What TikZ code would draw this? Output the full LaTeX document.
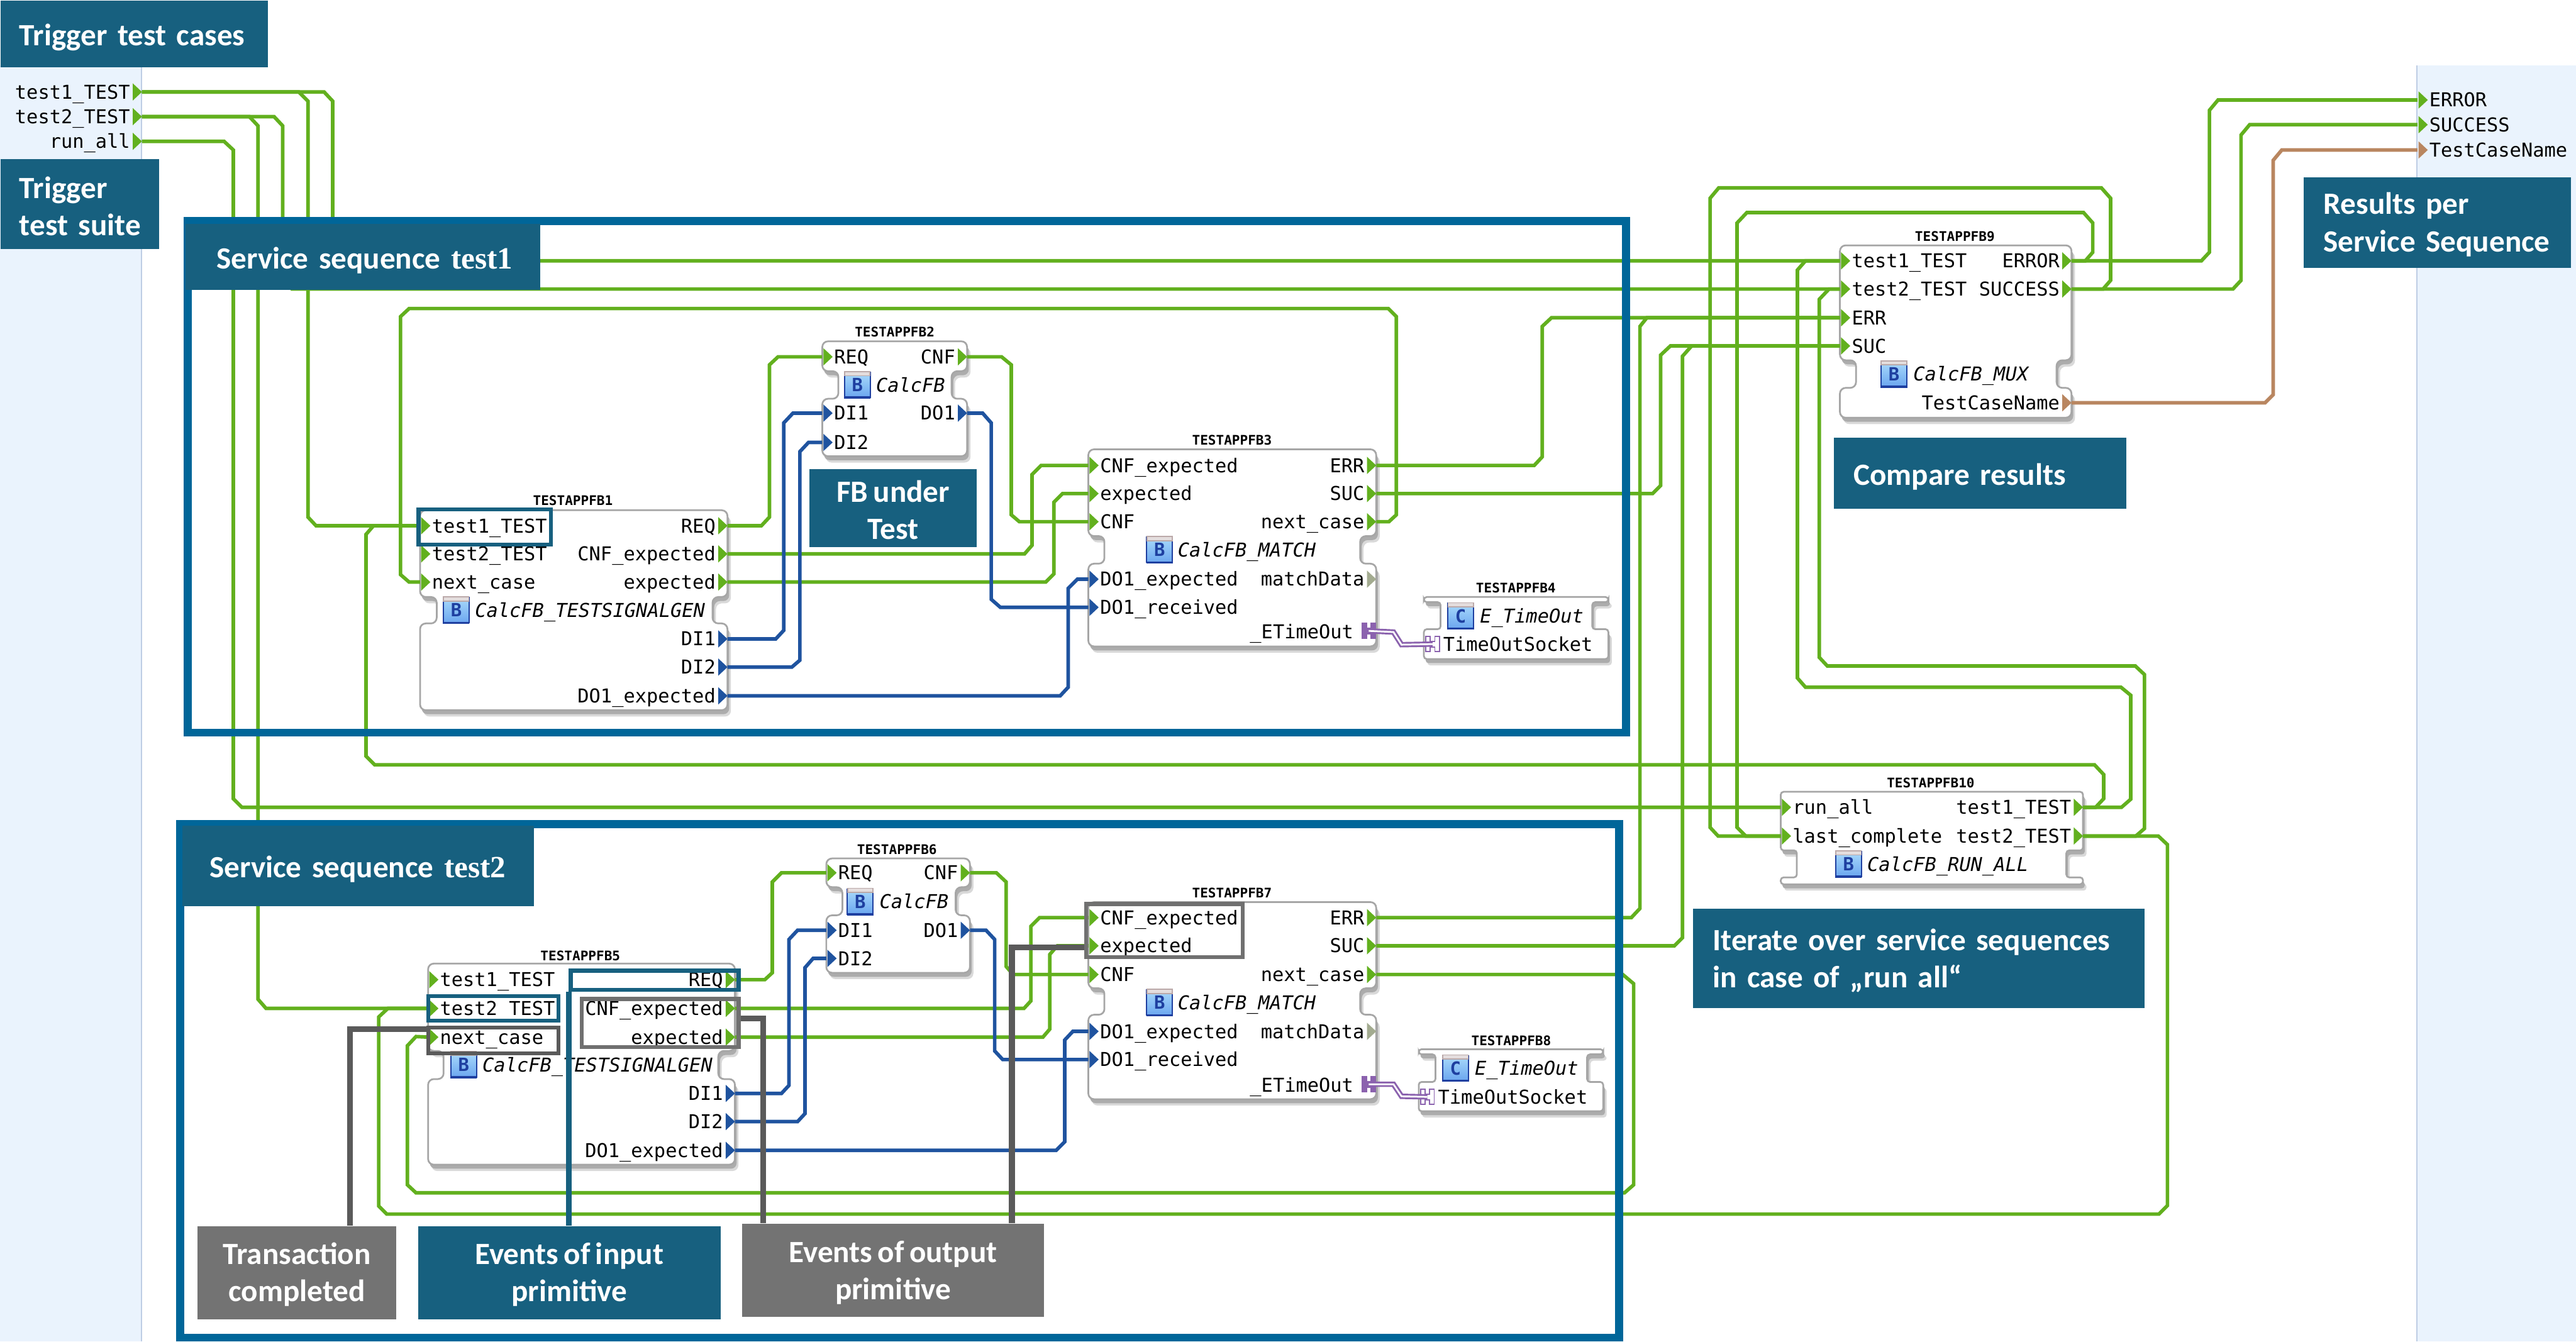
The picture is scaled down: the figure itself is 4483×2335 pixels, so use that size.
\documentclass[tikz,border=0pt]{standalone}
\usepackage{fontspec}
\setmainfont{Carlito}[WordSpace=0.75]
\newfontfamily\monofnt{DejaVu Sans Mono}
\newfontfamily\timesfnt{Liberation Serif}[WordSpace=0.75]
\definecolor{capcol}{HTML}{17607F}
\definecolor{capgrey}{HTML}{737373}
\definecolor{framecol}{HTML}{006699}
\definecolor{panelcol}{HTML}{EAF3FD}
\definecolor{paneledge}{HTML}{BECDE4}
\definecolor{evcol}{HTML}{62B01E}
\definecolor{datacol}{HTML}{1F539F}
\definecolor{strcol}{HTML}{B98660}
\definecolor{anycol}{HTML}{A3AB90}
\definecolor{plugcol}{HTML}{8B62AE}
\definecolor{leadcol}{HTML}{5A5A5A}
\definecolor{markcol}{HTML}{707070}
\definecolor{icontop}{HTML}{A9DAFB}
\definecolor{iconbot}{HTML}{6BA6EF}
\definecolor{iconink}{HTML}{1E3FA0}
\definecolor{icontab}{HTML}{BBA9A9}
\newcommand{\capfont}{\fontsize{15.3}{18.4}\selectfont\bfseries}
\newcommand{\capstrut}{\rule{0pt}{0.45cm}}
\newcommand{\onestrut}{\rule{0pt}{0.5cm}}
\tikzset{
    evline/.style={draw=evcol,line width=0.062cm},
    dataline/.style={draw=datacol,line width=0.062cm},
    strline/.style={draw=strcol,line width=0.062cm},
    plugline/.style={draw=plugcol,line width=0.032cm,double=white,double distance=0.03cm},
    portlabel/.style={font=\monofnt\fontsize{9.45}{10}\selectfont,inner sep=0pt,text height=0.24cm,text depth=0cm},
    fbtype/.style={portlabel,font=\monofnt\itshape\fontsize{9.45}{10}\selectfont,anchor=west},
    fbname/.style={font=\monofnt\bfseries\fontsize{6.55}{7}\selectfont,inner sep=0pt},
    fbicon/.style={minimum width=0.45cm,minimum height=0.44cm,inner sep=0pt,draw=iconink,line width=0.02cm,
        top color=icontop,bottom color=iconbot,text=iconink,font=\monofnt\bfseries\fontsize{9}{9}\selectfont},
    capblue/.style={fill=capcol,text=white,font=\capfont,anchor=north west,inner sep=0pt},
    capgray/.style={capblue,fill=capgrey},
    capleft/.style={align=left,execute at begin node={\leftskip=#1}},
    markblue/.style={draw=capcol,line width=0.07cm,inner sep=0pt},
    markgrey/.style={draw=markcol,line width=0.07cm,inner sep=0pt},
    markdark/.style={draw=leadcol,line width=0.07cm,inner sep=0pt},
    leadblue/.style={draw=capcol,line width=0.1cm},
    leadgrey/.style={draw=leadcol,line width=0.1cm},
}
% l,r,top,neck top,neck bottom,bottom,neck left,neck right,radius
\newcommand{\fbshape}[9]{
    \foreach \dx/\dy/\col in {6/11/gray!30,3/7/gray!65}
        \fill[\col,xshift=\dx*0.01cm,yshift=-\dy*0.01cm,rounded corners=#9]
            (#1,#3) -- (#2,#3) -- (#2,#4) -- (#8,#4) -- (#8,#5) -- (#2,#5) -- (#2,#6) -- (#1,#6) -- (#1,#5) -- (#7,#5) -- (#7,#4) -- (#1,#4) -- cycle;
    \filldraw[fill=white,draw=gray!70,line width=0.03cm,rounded corners=#9]
        (#1,#3) -- (#2,#3) -- (#2,#4) -- (#8,#4) -- (#8,#5) -- (#2,#5) -- (#2,#6) -- (#1,#6) -- (#1,#5) -- (#7,#5) -- (#7,#4) -- (#1,#4) -- cycle;
}
\newcommand{\inport}[5][evcol]{
    \fill[#1] (#3,#4) ++(2,-15) -- ++(16,15) -- ++(-16,15) -- cycle;
    \coordinate (#2) at (#3,#4);
    \path (#3,#4) ++(20,0) node[portlabel,anchor=west] (#2l) {#5};
}
\newcommand{\outport}[5][evcol]{
    \fill[#1] (#3,#4) ++(-16,-15) -- ++(16,15) -- ++(-16,15) -- cycle;
    \coordinate (#2) at (#3,#4);
    \path (#3,#4) ++(-20,0) node[portlabel,anchor=east] (#2l) {#5};
}
\newcommand{\typeicon}[4]{
    \node[fbicon] (#1) at (#2,#3) {#4};
    \filldraw[fill=icontab!40,draw=icontab,line width=0.02cm] (#2,#3) ++(-22,-23) rectangle ++(44,7);
    \fill[iconink] (#2,#3) ++(-23,20) rectangle ++(46,4);
}
\newcommand{\hplug}[4]{
    \filldraw[#4,draw=plugcol,line width=0.02cm] (#2,#3) ++(-12,-13) -- ++(8,0) -- ++(0,8) -- ++(8,0) -- ++(0,-8) -- ++(8,0) -- ++(0,26)
        -- ++(-8,0) -- ++(0,-8) -- ++(-8,0) -- ++(0,8) -- ++(-8,0) -- cycle;
    \coordinate (#1) at (#2,#3);
}
\begin{document}
\begin{tikzpicture}[x=0.01cm,y=-0.01cm]
    \useasboundingbox (0,0) rectangle (4483,2335);
    \fill[white] (0,0) rectangle (4483,2335);
    % interface panels
    \fill[panelcol] (0,114) rectangle (246,2335);
    \draw[paneledge,line width=0.025cm] (246,114) -- (246,2335);
    \fill[panelcol] (4206,114) rectangle (4483,2335);
    \draw[paneledge,line width=0.025cm] (4206,114) -- (4206,2335);
    \outport{trig1}{247}{160}{test1\_TEST}
    \outport{trig2}{247}{203}{test2\_TEST}
    \outport{trigall}{247}{246}{run\_all}
    \inport{resterr}{4207}{174}{ERROR}
    \inport{ressuc}{4207}{217}{SUCCESS}
    \inport[strcol]{resname}{4207}{261}{TestCaseName}

    % service sequence test1
    \fbshape{731}{1266}{888}{1039}{1085}{1236}{760}{1240}{0.1cm}
    \node[fbname] (fb1) at (997,871) {TESTAPPFB1};
    \inport{fbat}{731}{915}{test1\_TEST}
    \inport{fbas}{731}{964}{test2\_TEST}
    \inport{fban}{731}{1013}{next\_case}
    \outport{fbar}{1266}{915}{REQ}
    \outport{fbac}{1266}{964}{CNF\_expected}
    \outport{fbae}{1266}{1013}{expected}
    \outport[datacol]{fbad}{1266}{1112}{DI1}
    \outport[datacol]{fbaf}{1266}{1161}{DI2}
    \outport[datacol]{fbao}{1266}{1211}{DO1\_expected}
    \typeicon{icona}{794}{1062}{B}
    \node[fbtype] (typea) at (826,1062) {CalcFB\_TESTSIGNALGEN};

    \fbshape{1431}{1683}{594}{646}{694}{794}{1459}{1656}{0.1cm}
    \node[fbname] (fb2) at (1557,578) {TESTAPPFB2};
    \inport{fbbr}{1431}{621}{REQ}
    \outport{fbbc}{1683}{621}{CNF}
    \inport[datacol]{fbbd}{1431}{719}{DI1}
    \inport[datacol]{fbbf}{1431}{770}{DI2}
    \outport[datacol]{fbbo}{1683}{719}{DO1}
    \typeicon{iconb}{1492}{670}{B}
    \node[fbtype] (typeb) at (1524,670) {CalcFB};

    \fbshape{1894}{2395}{782}{933}{981}{1125}{1922}{2367}{0.1cm}
    \node[fbname] (fb3) at (2144,766) {TESTAPPFB3};
    \inport{fbcc}{1894}{810}{CNF\_expected}
    \inport{fbce}{1894}{859}{expected}
    \inport{fbcn}{1894}{908}{CNF}
    \inport[datacol]{fbco}{1894}{1008}{DO1\_expected}
    \inport[datacol]{fbcr}{1894}{1057}{DO1\_received}
    \outport{fbcerr}{2395}{810}{ERR}
    \outport{fbcsuc}{2395}{859}{SUC}
    \outport{fbcnext}{2395}{908}{next\_case}
    \outport[anycol]{fbcm}{2395}{1008}{matchData}
    \typeicon{iconc}{2018}{957}{B}
    \node[fbtype] (typec) at (2049,957) {CalcFB\_MATCH};
    \node[portlabel,anchor=east] (timeca) at (2356,1099) {\_ETimeOut};
    \hplug{plugc}{2382}{1098}{fill=plugcol}

    \fbshape{2478}{2799}{1039}{1048}{1095}{1147}{2507}{2771}{0.05cm}
    \node[fbname] (fb4) at (2638,1023) {TESTAPPFB4};
    \typeicon{icond}{2542}{1072}{C}
    \node[fbtype] (typed) at (2575,1072) {E\_TimeOut};
    \hplug{sockd}{2493}{1121}{fill=white}
    \node[portlabel,anchor=west] (timecd) at (2511,1121) {TimeOutSocket};

    % service sequence test2
    \fbshape{745}{1279}{1677}{1829}{1878}{2027}{772}{1250}{0.1cm}
    \node[fbname] (fb5) at (1010,1663) {TESTAPPFB5};
    \inport{fbet}{745}{1705}{test1\_TEST}
    \inport{fbes}{745}{1755}{test2\_TEST}
    \inport{fben}{745}{1805}{next\_case}
    \outport{fber}{1279}{1705}{REQ}
    \outport{fbec}{1279}{1755}{CNF\_expected}
    \outport{fbee}{1279}{1805}{expected}
    \outport[datacol]{fbed}{1279}{1903}{DI1}
    \outport[datacol]{fbef}{1279}{1952}{DI2}
    \outport[datacol]{fbeo}{1279}{2002}{DO1\_expected}
    \typeicon{icone}{807}{1853}{B}
    \node[fbtype] (typee) at (839,1853) {CalcFB\_TESTSIGNALGEN};

    \fbshape{1438}{1688}{1494}{1544}{1593}{1693}{1466}{1663}{0.1cm}
    \node[fbname] (fb6) at (1561,1478) {TESTAPPFB6};
    \inport{fbfr}{1438}{1519}{REQ}
    \outport{fbfc}{1688}{1519}{CNF}
    \inport[datacol]{fbfd}{1438}{1619}{DI1}
    \inport[datacol]{fbff}{1438}{1668}{DI2}
    \outport[datacol]{fbfo}{1688}{1619}{DO1}
    \typeicon{iconf}{1497}{1569}{B}
    \node[fbtype] (typef) at (1530,1569) {CalcFB};

    \fbshape{1894}{2395}{1570}{1720}{1766}{1913}{1922}{2367}{0.1cm}
    \node[fbname] (fb7) at (2144,1554) {TESTAPPFB7};
    \inport{fbgc}{1894}{1597}{CNF\_expected}
    \inport{fbge}{1894}{1646}{expected}
    \inport{fbgn}{1894}{1696}{CNF}
    \inport[datacol]{fbgo}{1894}{1795}{DO1\_expected}
    \inport[datacol]{fbgr}{1894}{1844}{DO1\_received}
    \outport{fbgerr}{2395}{1597}{ERR}
    \outport{fbgsuc}{2395}{1646}{SUC}
    \outport{fbgnext}{2395}{1696}{next\_case}
    \outport[anycol]{fbgm}{2395}{1795}{matchData}
    \typeicon{icong}{2018}{1745}{B}
    \node[fbtype] (typeg) at (2049,1745) {CalcFB\_MATCH};
    \node[portlabel,anchor=east] (timega) at (2356,1888) {\_ETimeOut};
    \hplug{plugg}{2382}{1887}{fill=plugcol}

    \fbshape{2469}{2790}{1826}{1835}{1883}{1934}{2498}{2762}{0.05cm}
    \node[fbname] (fb8) at (2630,1811) {TESTAPPFB8};
    \typeicon{iconh}{2533}{1859}{C}
    \node[fbtype] (typeh) at (2566,1859) {E\_TimeOut};
    \hplug{sockh}{2484}{1909}{fill=white}
    \node[portlabel,anchor=west] (timehd) at (2502,1909) {TimeOutSocket};

    % result mux and run all
    \fbshape{3202}{3605}{427}{627}{675}{727}{3230}{3579}{0.1cm}
    \node[fbname] (fb9) at (3402,411) {TESTAPPFB9};
    \inport{fbit}{3202}{454}{test1\_TEST}
    \inport{fbis}{3202}{503}{test2\_TEST}
    \inport{fbierr}{3202}{553}{ERR}
    \inport{fbisuc}{3202}{602}{SUC}
    \outport{fbiout}{3605}{454}{ERROR}
    \outport{fbisout}{3605}{503}{SUCCESS}
    \outport[strcol]{fbiname}{3605}{701}{TestCaseName}
    \typeicon{iconi}{3296}{651}{B}
    \node[fbtype] (typei) at (3329,651) {CalcFB\_MUX};

    \fbshape{3099}{3625}{1378}{1480}{1527}{1539}{3127}{3596}{0.05cm}
    \node[fbname] (fb10) at (3360,1362) {TESTAPPFB10};
    \inport{fbjr}{3099}{1405}{run\_all}
    \inport{fbjl}{3099}{1455}{last\_complete}
    \outport{fbjt}{3625}{1405}{test1\_TEST}
    \outport{fbjs}{3625}{1455}{test2\_TEST}
    \typeicon{iconj}{3217}{1504}{B}
    \node[fbtype] (typej) at (3249,1504) {CalcFB\_RUN\_ALL};

    % event connections
    \draw[evline] (trig1) -- (564,160) -- (579,176) -- (579,438) -- (595,454) -- (fbit);
    \draw[evline] (trig1) -- (520,160) -- (536,176) -- (536,900) -- (550,915) -- (fbat);
    \draw[evline] (trig2) -- (477,203) -- (492,219) -- (492,487) -- (508,503) -- (fbis);
    \draw[evline] (trig2) -- (434,203) -- (449,219) -- (449,1739) -- (463,1755) -- (fbes);
    \draw[evline] (trigall) -- (390,246) -- (406,261) -- (406,1390) -- (421,1405) -- (fbjr);
    \draw[evline] (fbar) -- (1325,915) -- (1339,900) -- (1339,635) -- (1354,621) -- (fbbr);
    \draw[evline] (fbbc) -- (1743,621) -- (1760,635) -- (1760,896) -- (1774,908) -- (fbcn);
    \draw[evline] (fbac) -- (1783,964) -- (1796,949) -- (1796,826) -- (1812,810) -- (fbcc);
    \draw[evline] (fbae) -- (1820,1013) -- (1834,999) -- (1834,874) -- (1849,859) -- (fbce);
    \draw[evline] (fbcnext) -- (2417,908) -- (2430,896) -- (2430,551) -- (2416,537) -- (712,537) -- (697,551) -- (697,1000) -- (712,1013) -- (fban);
    \draw[evline] (fbcerr) -- (2670,810) -- (2684,795) -- (2684,568) -- (2700,553) -- (fbierr);
    \draw[evline] (fbcsuc) -- (2876,859) -- (2890,845) -- (2890,618) -- (2907,602) -- (fbisuc);
    \draw[evline] (fber) -- (1331,1705) -- (1344,1693) -- (1344,1535) -- (1360,1519) -- (fbfr);
    \draw[evline] (fbfc) -- (1734,1519) -- (1751,1535) -- (1751,1682) -- (1763,1696) -- (fbgn);
    \draw[evline] (fbec) -- (1782,1755) -- (1794,1742) -- (1794,1612) -- (1809,1597) -- (fbgc);
    \draw[evline] (fbee) -- (1815,1805) -- (1827,1791) -- (1827,1661) -- (1840,1646) -- (fbge);
    \draw[evline] (fbgerr) -- (2839,1597) -- (2854,1581) -- (2854,568) -- (2866,553) -- (fbierr);
    \draw[evline] (fbgsuc) -- (2914,1646) -- (2928,1632) -- (2928,620) -- (2944,602) -- (fbisuc);
    \draw[evline] (fbgnext) -- (2824,1696) -- (2843,1712) -- (2843,2062) -- (2827,2076) -- (724,2076) -- (709,2062) -- (709,1820) -- (724,1804) -- (fben);
    \draw[evline] (fbiout) -- (3831,454) -- (3845,439) -- (3845,192) -- (3860,174) -- (resterr);
    \draw[evline] (fbisout) -- (3886,503) -- (3900,488) -- (3900,235) -- (3915,217) -- (ressuc);
    \draw[evline] (fbiout) -- (3629,454) -- (3642,439) -- (3642,388) -- (3626,370) -- (3040,370) -- (3023,388) -- (3023,1440) -- (3038,1455) -- (fbjl);
    \draw[evline] (fbisout) -- (3660,503) -- (3673,488) -- (3673,345) -- (3657,327) -- (2991,327) -- (2976,345) -- (2976,1440) -- (2990,1455) -- (fbjl);
    \draw[evline] (fbjt) -- (3692,1405) -- (3708,1391) -- (3708,1210) -- (3691,1196) -- (3142,1196) -- (3128,1180) -- (3128,470) -- (3142,454) -- (fbit);
    \draw[evline] (fbjs) -- (3717,1455) -- (3732,1442) -- (3732,1174) -- (3716,1159) -- (3180,1159) -- (3166,1144) -- (3166,521) -- (3183,503) -- (fbis);
    \draw[evline] (fbjt) -- (3647,1405) -- (3661,1390) -- (3661,1348) -- (3645,1331) -- (652,1331) -- (637,1316) -- (637,930) -- (650,915) -- (fbat);
    \draw[evline] (fbjs) -- (3756,1455) -- (3772,1470) -- (3772,2098) -- (3757,2113) -- (673,2113) -- (659,2099) -- (659,1770) -- (675,1755) -- (fbes);

    % data connections
    \draw[dataline] (fbad) -- (1350,1112) -- (1364,1097) -- (1364,736) -- (1380,719) -- (fbbd);
    \draw[dataline] (fbaf) -- (1378,1161) -- (1392,1149) -- (1392,786) -- (1407,770) -- (fbbf);
    \draw[dataline] (fbao) -- (1845,1211) -- (1859,1196) -- (1859,1024) -- (1875,1008) -- (fbco);
    \draw[dataline] (fbbo) -- (1710,719) -- (1725,736) -- (1725,1043) -- (1741,1057) -- (fbcr);
    \draw[dataline] (fbed) -- (1360,1903) -- (1373,1889) -- (1373,1635) -- (1388,1619) -- (fbfd);
    \draw[dataline] (fbef) -- (1388,1952) -- (1401,1938) -- (1401,1684) -- (1415,1668) -- (fbff);
    \draw[dataline] (fbeo) -- (1838,2002) -- (1853,1987) -- (1853,1810) -- (1867,1795) -- (fbgo);
    \draw[dataline] (fbfo) -- (1716,1619) -- (1731,1635) -- (1731,1829) -- (1745,1844) -- (fbgr);
    \draw[strline] (fbiname) -- (3942,701) -- (3956,687) -- (3956,279) -- (3971,261) -- (resname);
    \draw[plugline] (plugc) -- (2425,1100) -- (2439,1122) -- (sockd);
    \draw[plugline] (plugg) -- (2425,1887) -- (2439,1908) -- (sockh);

    % frames of the service sequences
    \draw[framecol,line width=0.14cm] (327,385) rectangle (2830,1275);
    \draw[framecol,line width=0.14cm] (314,1434) rectangle (2818,2328);

    % captions
    \node[capblue,capleft=0.33cm,text width=4.65cm,minimum height=1.16cm] (captrig) at (0,0) {\onestrut Trigger test cases};
    \node[capblue,capleft=0.33cm,text width=2.76cm,minimum height=1.57cm] (capsuite) at (0,276) {\capstrut Trigger\\test suite};
    \node[capblue,capleft=0.54cm,text width=6.17cm,minimum height=1.15cm] (capseqa) at (322,389) {\onestrut Service sequence {\timesfnt test1}};
    \node[capblue,capleft=0.47cm,text width=6.11cm,minimum height=1.40cm] (capseqb) at (317,1436) {\onestrut Service sequence {\timesfnt test2}};
    \node[capblue,align=center,minimum width=2.91cm,minimum height=1.35cm] (capfb) at (1408,816) {\capstrut FB under\\Test};
    \node[capblue,capleft=0.34cm,text width=5.08cm,minimum height=1.24cm] (capcomp) at (3191,761) {\onestrut Compare results};
    \node[capblue,capleft=0.35cm,text width=4.65cm,minimum height=1.57cm] (capres) at (4008,308) {\capstrut Results per\\Service Sequence};
    \node[capblue,capleft=0.34cm,text width=7.85cm,minimum height=1.73cm] (capiter) at (2946,1581) {\capstrut Iterate over service sequences\\in case of „run all“};
    \node[capgray,align=center,minimum width=3.46cm,minimum height=1.62cm] (capdone) at (343,2133) {\capstrut Transaction\\completed};
    \node[capblue,align=center,minimum width=5.26cm,minimum height=1.62cm] (capin) at (727,2133) {\capstrut Events of input\\primitive};
    \node[capgray,align=center,minimum width=5.25cm,minimum height=1.62cm] (capout) at (1291,2129) {\capstrut Events of output\\primitive};

    % marked interface events
    \node[markblue,minimum width=2.30cm,minimum height=0.61cm] (marka) at (843.5,917) {};
    \node[markblue,minimum width=2.26cm,minimum height=0.43cm] (markt) at (858.5,1755) {};
    \node[markdark,minimum width=2.26cm,minimum height=0.45cm] (markn) at (858.5,1811) {};
    \node[markblue,minimum width=2.92cm,minimum height=0.33cm] (markr) at (1139.5,1706) {};
    \node[markgrey,minimum width=2.73cm,minimum height=0.84cm] (markc) at (1149,1780.5) {};
    \node[markgrey,minimum width=2.72cm,minimum height=0.92cm] (marke) at (2026.5,1619.5) {};
    \coordinate (leadn) at (609,2133);
    \coordinate (leadc) at (1328,2129);
    \coordinate (leade) at (1761,2129);
    \draw[leadblue] (markr.south west) -- (markr.south west |- capin.north);
    \draw[leadgrey] ([yshift=-0.06cm]markn.north west) -| (leadn);
    \draw[leadgrey] ([yshift=0.08cm]markc.east) -| (leadc);
    \draw[leadgrey] ([yshift=-0.29cm]marke.west) -| (leade);
\end{tikzpicture}
\end{document}
